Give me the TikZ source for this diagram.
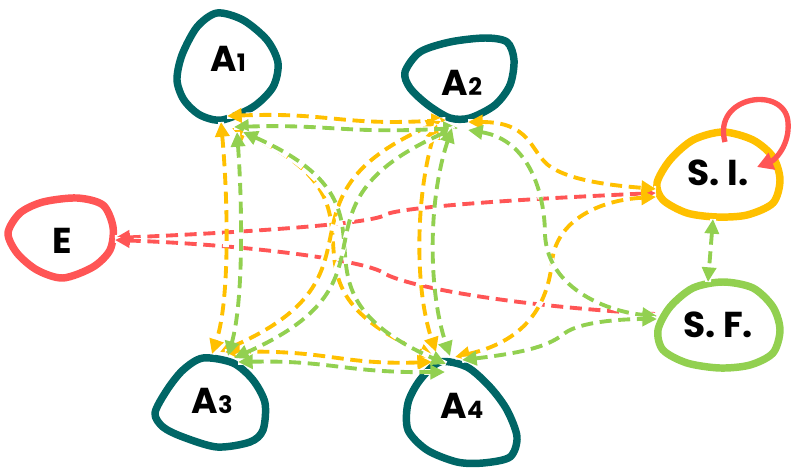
\documentclass[tikz,border=0pt]{standalone}
\usepackage{fontspec}
\newfontfamily\lblfont{Poppins}
\usetikzlibrary{arrows.meta, calc}
\definecolor{accentteal}{RGB}{0,102,102}
\definecolor{accentred}{RGB}{255,85,85}
\definecolor{accentorange}{RGB}{255,192,0}
\definecolor{accentgreen}{RGB}{146,208,80}
\tikzset{
  lbl/.style={anchor=base, inner sep=0pt, font=\lblfont\bfseries\fontsize{27}{27}\selectfont},
  blob/.style={line width=5.6pt, line join=round},
  link/.style={line width=2.9pt, dash pattern=on 9pt off 5pt,
    preaction={draw=white, line width=4.4pt, dash pattern=on 10pt off 4pt, -},
    {Triangle[length=11pt,width=10.5pt]}-{Triangle[length=11pt,width=10.5pt]}},
}
\newcommand{\subnum}[1]{{\fontsize{18}{18}\selectfont #1}}

\begin{document}
\begin{tikzpicture}[x=0.75pt, y=-0.75pt]
    \useasboundingbox (0,0) rectangle (793,468);

    % labels
    \node[lbl] (a1) at (228,71) {A\subnum{1}};
    \node[lbl] (a2) at (462,95) {A\subnum{2}};
    \node[lbl] (a3) at (212,413) {A\subnum{3}};
    \node[lbl] (a4) at (462,418) {A\subnum{4}};
    \node[lbl] (e) at (62,253) {E};
    \node[lbl] (si) at (718,185) {S. I.};
    \node[lbl] (sf) at (718,337) {S. F.};

    % outlines
    \draw[blob, accentteal, shift={(a1.base)}] plot[smooth cycle] coordinates {(-11,-58) (15,-51) (39,-31) (50,-8) (45,16) (25,36) (-6,49) (-28,44) (-44,29) (-51,9) (-46,-16) (-31,-44)};
    \draw[blob, accentteal, shift={(a2.base)}] plot[smooth cycle] coordinates {(-57,-23) (-42,-43) (-12,-53) (23,-57) (45,-53) (52,-35) (48,-10) (33,10) (8,23) (-12,23) (-34,10) (-52,-7)};
    \draw[blob, accentteal, shift={(a3.base)}] plot[smooth cycle] coordinates {(-57,0) (-45,-23) (-29,-43) (-9,-55) (21,-50) (41,-33) (53,-10) (51,17) (38,29) (5,34) (-29,24) (-49,14)};
    \draw[blob, accentteal, shift={(a4.base)}] plot[smooth cycle] coordinates {(-22,-56) (-42,-38) (-54,-15) (-54,12) (-35,32) (-5,44) (21,45) (48,39) (55,19) (45,-8) (28,-31) (5,-51)};
    \draw[blob, accentred, shift={(e.base)}] plot[smooth cycle] coordinates {(-54,-20) (-42,-40) (-19,-51) (15,-55) (41,-48) (51,-26) (48,-3) (31,14) (1,25) (-25,17) (-45,0)};
    \draw[blob, accentorange, shift={(si.base)}] plot[smooth cycle] coordinates {(-61,-2) (-48,-25) (-25,-45) (5,-53) (35,-45) (55,-28) (62,-5) (55,18) (29,30) (-1,32) (-31,28) (-55,15)};
    \draw[blob, accentgreen, shift={(sf.base)}] plot[smooth cycle] coordinates {(-60,-7) (-48,-30) (-25,-49) (5,-55) (35,-49) (55,-30) (62,-7) (55,16) (32,28) (2,31) (-31,26) (-55,13)};

    % red links
    \draw[link, accentred] ($(e.base)+(53,-15)$) .. controls (250,232) and (370,224) .. (385,215) .. controls (395,208) and (500,200) .. ($(si.base)+(-62,8)$);
    \draw[link, accentred, {Triangle[length=11pt,width=10.5pt]}-] ($(e.base)+(53,-13)$) .. controls (250,245) and (360,260) .. (382,272) .. controls (400,285) and (500,305) .. ($(sf.base)+(-63,-23)$);

    % orange links
    \draw[link, accentorange] ($(a1.base)+(-1,45)$) .. controls (330,112) and (340,126) .. ($(a2.base)+(-16,25)$);
    \draw[link, accentorange] ($(a1.base)+(-7,51)$) .. controls (228,200) and (230,300) .. ($(a3.base)+(0,-59)$);
    \draw[link, accentorange] ($(a1.base)+(4,57)$) .. controls (412,208) and (254,277) .. ($(a4.base)+(-28,-61)$);
    \draw[link, accentorange] ($(a2.base)+(-21,26)$) .. controls (263,199) and (398,274) .. ($(a3.base)+(8,-61)$);
    \draw[link, accentorange] ($(a2.base)+(-25,29)$) .. controls (415,200) and (415,290) .. ($(a4.base)+(-26,-66)$);
    \draw[link, accentorange] ($(a3.base)+(13,-61)$) .. controls (330,350) and (340,365) .. ($(a4.base)+(-30,-56)$);
    \draw[link, accentorange] ($(a2.base)+(6,27)$) .. controls (530,122) and (530,150) .. (548,165) .. controls (570,182) and (620,186) .. ($(si.base)+(-62,4)$);
    \draw[link, accentorange] ($(a4.base)+(-7,-61)$) .. controls (530,340) and (548,300) .. (552,262) .. controls (556,220) and (600,200) .. ($(si.base)+(-62,12)$);

    % green links
    \draw[link, accentgreen] ($(a1.base)+(6,56)$) .. controls (330,124) and (345,134) .. ($(a2.base)+(-4,33)$);
    \draw[link, accentgreen] ($(a1.base)+(9,61)$) .. controls (242,200) and (244,300) .. ($(a3.base)+(16,-57)$);
    \draw[link, accentgreen] ($(a1.base)+(15,61)$) .. controls (423,212) and (266,284) .. ($(a4.base)+(-16,-54)$);
    \draw[link, accentgreen] ($(a2.base)+(-7,33)$) .. controls (275,208) and (414,278) .. ($(a3.base)+(22,-55)$);
    \draw[link, accentgreen] ($(a2.base)+(-10,33)$) .. controls (428,200) and (428,290) .. ($(a4.base)+(-12,-62)$);
    \draw[link, accentgreen] ($(a3.base)+(26,-51)$) .. controls (330,360) and (345,373) .. ($(a4.base)+(-17,-46)$);
    \draw[link, accentgreen] ($(a2.base)+(6,35)$) .. controls (530,140) and (545,195) .. (545,235) .. controls (548,290) and (610,312) .. ($(sf.base)+(-61,-21)$);
    \draw[link, accentgreen] ($(a4.base)+(0,-58)$) .. controls (530,352) and (550,345) .. (565,333) .. controls (580,322) and (620,319) .. ($(sf.base)+(-61,-18)$);
    \draw[link, accentgreen] ($(si.base)+(-5,34)$) -- ($(sf.base)+(-10,-55)$);

    % loop on S. I.
    \draw[accentred, line width=4pt, -{Triangle[length=12pt,width=13pt]}] ($(si.base)+(7,-43)$) .. controls (712,95) and (785,85) .. (788,122) .. controls (790,145) and (775,160) .. ($(si.base)+(39,-18)$);
\end{tikzpicture}
\end{document}
